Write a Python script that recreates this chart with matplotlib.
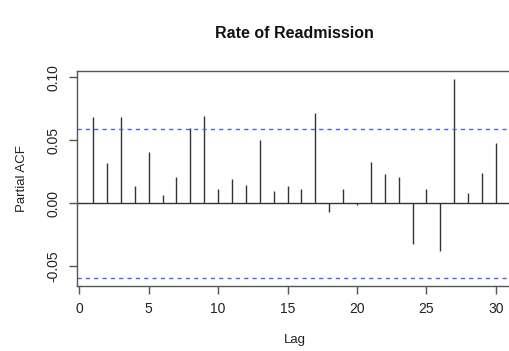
import matplotlib
matplotlib.use("Agg")
import matplotlib.pyplot as plt

# Giá trị PACF
lags = list(range(1, 31))
pacf = [0.0688, 0.0317, 0.0685, 0.0135, 0.0405, 0.0066, 0.0206, 0.0595, 0.0690, 0.0111,
        0.0193, 0.0143, 0.0505, 0.0098, 0.0136, 0.0110, 0.0720, -0.0066, 0.0110, -0.0010,
        0.0325, 0.0233, 0.0206, -0.0323, 0.0110, -0.0378, 0.0987, 0.0079, 0.0238, 0.0481]
ci = 0.0592
xticks = [0, 5, 10, 15, 20, 25, 30]
yticks = [-0.05, 0.00, 0.05, 0.10]
ytick_labels = ["-0.05", "0.00", "0.05", "0.10"]

plt.rcParams['font.family'] = ['Liberation Sans', 'DejaVu Sans']

fig = plt.figure(figsize=(5.09, 3.51), dpi=100)
ax = fig.add_axes([0.1513, 0.186, 0.8546, 0.6117])

ax.vlines(lags, 0, pacf, color='#333333', linewidth=1.0)
ax.axhline(0, color='#333333', linewidth=1.0)
ax.axhline(ci, color='#4f63e6', linewidth=1.0, linestyle=(0, (3, 3)))
ax.axhline(-ci, color='#4f63e6', linewidth=1.0, linestyle=(0, (3, 3)))

ax.set_xlim(-0.16, 31.16)
ax.set_ylim(-0.0654, 0.105)
ax.set_xticks(xticks)
ax.set_yticks(yticks)
ax.set_yticklabels(ytick_labels, rotation=90, va='center')
ax.tick_params(axis='both', direction='out', length=6, width=1, colors='#555555',
               labelcolor='#222222', labelsize=10, pad=6)

for s in ax.spines.values():
    s.set_color('#555555')
    s.set_linewidth(1.0)

ax.set_xlabel('Lag', fontsize=9.5, labelpad=13, color='#222222')
ax.set_ylabel('Partial ACF', fontsize=9.5, labelpad=13, color='#222222')
fig.text(294 / 509, 1 - 33 / 351, 'Rate of Readmission', ha='center', va='center',
         fontsize=11.5, fontweight='bold', color='#111111')

fig.savefig('out.png', dpi=100)
